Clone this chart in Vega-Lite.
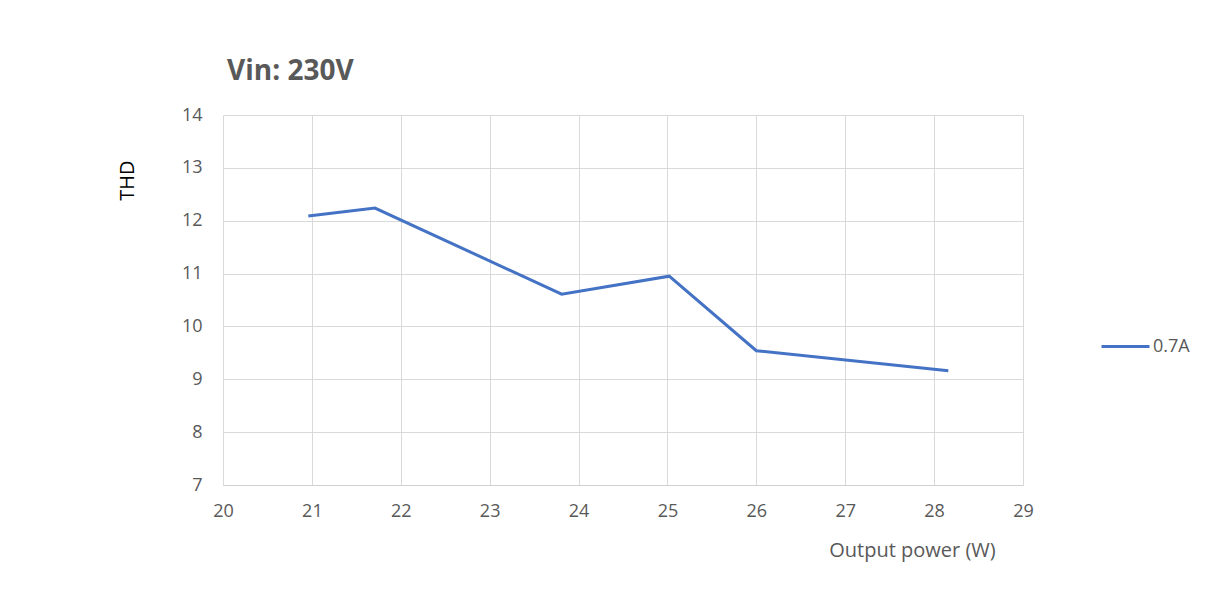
{
  "$schema": "https://vega.github.io/schema/vega-lite/v6.json",
  "width": 800,
  "height": 370,
  "autosize": "none",
  "padding": {"left": 223, "top": 115, "right": 185, "bottom": 108},
  "background": "white",
  "title": {
    "text": "Vin: 230V",
    "anchor": "start",
    "font": "Open Sans",
    "fontSize": 28,
    "fontWeight": "bold",
    "color": "#595959",
    "dx": 110,
    "offset": 20
  },
  "config": {
    "view": {"stroke": null},
    "font": "Open Sans"
  },
  "data": {
    "values": [
      {"power": 20.96, "thd": 12.09, "series": "0.7A"},
      {"power": 21.71, "thd": 12.24, "series": "0.7A"},
      {"power": 23.81, "thd": 10.61, "series": "0.7A"},
      {"power": 25.02, "thd": 10.95, "series": "0.7A"},
      {"power": 26.0, "thd": 9.54, "series": "0.7A"},
      {"power": 28.16, "thd": 9.16, "series": "0.7A"}
    ]
  },
  "mark": {"type": "line", "strokeWidth": 3, "strokeJoin": "miter"},
  "encoding": {
    "x": {
      "field": "power",
      "type": "quantitative",
      "scale": {"domain": [20, 29], "nice": false, "zero": false},
      "axis": {
        "title": "Output power (W)",
        "values": [20, 21, 22, 23, 24, 25, 26, 27, 28, 29],
        "grid": true,
        "gridColor": "#d9d9d9",
        "domainColor": "#d0d0d0",
        "ticks": false,
        "labelFlush": false,
        "labelPadding": 17,
        "labelFontSize": 18,
        "labelColor": "#595959",
        "labelFont": "Open Sans",
        "titleFont": "Open Sans",
        "titleFontSize": 20,
        "titleFontWeight": "normal",
        "titleColor": "#595959",
        "titleX": 689,
        "titleY": 55,
        "titleAlign": "center",
        "titleBaseline": "top"
      }
    },
    "y": {
      "field": "thd",
      "type": "quantitative",
      "scale": {"domain": [7, 14], "nice": false, "zero": false},
      "axis": {
        "title": "THD",
        "values": [7, 8, 9, 10, 11, 12, 13, 14],
        "grid": true,
        "gridColor": "#d9d9d9",
        "domain": false,
        "ticks": false,
        "labelFlush": false,
        "labelPadding": 21,
        "labelFontSize": 18,
        "labelColor": "#595959",
        "labelFont": "Open Sans",
        "titleFont": "Open Sans",
        "titleFontSize": 20,
        "titleFontWeight": "normal",
        "titleColor": "#000000",
        "titleAngle": -90,
        "titleX": -96,
        "titleY": 65,
        "titleAlign": "center",
        "titleBaseline": "middle"
      }
    },
    "color": {
      "field": "series",
      "type": "nominal",
      "scale": {"range": ["#4472c4"]},
      "legend": {
        "title": null,
        "orient": "none",
        "legendX": 877,
        "legendY": 206,
        "symbolType": "stroke",
        "symbolSize": 2304,
        "symbolStrokeWidth": 3,
        "labelFontSize": 18,
        "labelColor": "#595959",
        "labelFont": "Open Sans",
        "labelOffset": 2
      }
    }
  }
}
